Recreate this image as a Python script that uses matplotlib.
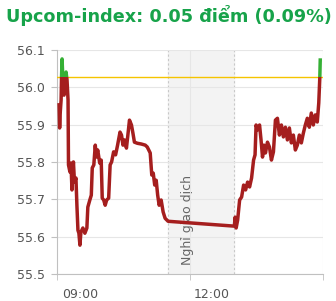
import matplotlib
matplotlib.use("Agg")
import matplotlib.pyplot as plt
from matplotlib.patches import Rectangle

# minutes after 09:00 and index value
minutes = [2.7, 3.4, 4.0, 5.4, 6.0, 6.7, 7.4, 8.1, 9.4, 10.7, 12.1, 13.4, 14.8, 15.4,
           17.4, 18.8, 20.1, 20.8, 22.1, 23.5, 25.5, 26.8, 28.2, 29.5, 30.9, 32.2,
           34.9, 37.6, 40.3, 41.6, 44.3, 46.3, 47.6, 49.7, 51.7, 53.0, 55.0, 57.7,
           59.7, 61.1, 63.1, 65.1, 67.1, 69.8, 71.8, 73.8, 76.5, 79.2, 81.9, 83.2,
           85.2, 87.2, 89.2, 91.3, 93.9, 96.6, 98.0, 100.7, 102.7, 104.7, 108.7,
           114.1, 119.4, 122.1, 126.1, 128.2, 130.2, 132.2, 134.2, 136.2, 138.2,
           140.9, 143.6, 146.3, 150.3,
           240.0, 241.2, 242.5, 244.5, 247.2, 249.9, 252.6, 255.3, 258.0, 260.7,
           263.4, 266.1, 268.1, 269.5, 271.5, 274.2, 276.2, 278.2, 280.2, 282.2,
           284.9, 287.6, 290.3, 293.0, 295.7, 298.4, 301.1, 303.8, 306.5, 309.2,
           311.9, 314.6, 317.3, 320.0, 322.7, 325.4, 328.1, 330.8, 333.5, 336.2,
           338.9, 341.6, 344.3, 347.0, 349.7, 352.4, 354.4, 355.8, 356.4]
index_values = [55.953, 55.891, 55.926, 55.966, 56.028, 56.076, 56.041, 56.006,
                55.979, 56.014, 56.041, 56.020, 55.966, 55.792, 55.773, 55.797,
                55.725, 55.757, 55.800, 55.746, 55.757, 55.684, 55.617, 55.609,
                55.577, 55.612, 55.623, 55.609, 55.623, 55.679, 55.698, 55.711,
                55.784, 55.792, 55.845, 55.813, 55.832, 55.797, 55.805, 55.703,
                55.698, 55.684, 55.698, 55.703, 55.792, 55.800, 55.827, 55.819,
                55.845, 55.859, 55.880, 55.872, 55.845, 55.859, 55.837, 55.886,
                55.912, 55.899, 55.877, 55.853, 55.850, 55.848, 55.845, 55.840,
                55.824, 55.765, 55.770, 55.738, 55.751, 55.711, 55.684, 55.698,
                55.666, 55.649, 55.641,
                55.628, 55.652, 55.623, 55.644, 55.698, 55.706, 55.738, 55.725,
                55.746, 55.733, 55.757, 55.805, 55.819, 55.899, 55.886, 55.899,
                55.859, 55.813, 55.845, 55.824, 55.853, 55.840, 55.805, 55.827,
                55.912, 55.917, 55.872, 55.899, 55.867, 55.893, 55.859, 55.891,
                55.851, 55.872, 55.832, 55.845, 55.872, 55.851, 55.877, 55.899,
                55.917, 55.893, 55.931, 55.899, 55.926, 55.907, 55.958, 56.025,
                56.073]
reference = 56.027
break_start, break_end = 150, 240
tick_labels = ["09:00", "12:00"]

fig = plt.figure(figsize=(3.36, 3.01), dpi=100)
ax = fig.add_axes([0.170, 0.090, 0.791, 0.744])
ax.set_xlim(0, 360)
ax.set_ylim(55.5, 56.1)

ax.axvspan(break_start, break_end, color="#f3f3f3", zorder=0)
for xb in (break_start, break_end):
    ax.axvline(xb, color="#c8c8c8", lw=0.8, ls=(0, (2, 2)), zorder=1)
ax.text(176, 55.525, "Nghỉ giao dịch", rotation=90, ha="center", va="bottom",
        fontsize=9, color="#666666")

ax.axhline(reference, color="#f5c400", lw=1, zorder=3)

red, = ax.plot(minutes, index_values, color="#a51e1e", lw=2.5, zorder=4)
green, = ax.plot(minutes, index_values, color="#35b035", lw=2.5, zorder=4)
green.set_clip_path(Rectangle((0, reference), 360, 1, transform=ax.transData))
red.set_clip_path(Rectangle((0, 55.0), 360, reference - 55.0, transform=ax.transData))

ax.set_yticks([55.5, 55.6, 55.7, 55.8, 55.9, 56.0, 56.1])
ax.set_yticklabels(["55.5", "55.6", "55.7", "55.8", "55.9", "56.0", "56.1"])
ax.grid(axis="y", color="#e6e6e6", lw=0.8, zorder=0)
for xg in (180, 360):
    ax.axvline(xg, color="#e6e6e6", lw=0.8, zorder=0)

ax.set_xticks([0, 180, 360], minor=True)
ax.set_xticks([31, 210])
ax.set_xticklabels(tick_labels)
ax.tick_params(axis="x", which="major", length=0, pad=10, labelsize=9, labelcolor="#555555")
ax.tick_params(axis="x", which="minor", length=4, color="#c0c0c0", direction="out")
ax.tick_params(axis="y", length=4, color="#c0c0c0", pad=5, labelsize=9, labelcolor="#555555")

for side in ("top", "right"):
    ax.spines[side].set_visible(False)
for side in ("left", "bottom"):
    ax.spines[side].set_color("#c0c0c0")
    ax.spines[side].set_linewidth(0.8)

fig.text(0.018, 0.985, "Upcom-index: 0.05 điểm (0.09%)", ha="left", va="top",
         fontsize=12.7, fontweight="bold", color="#17a34a")

fig.savefig("out.png", dpi=100)
